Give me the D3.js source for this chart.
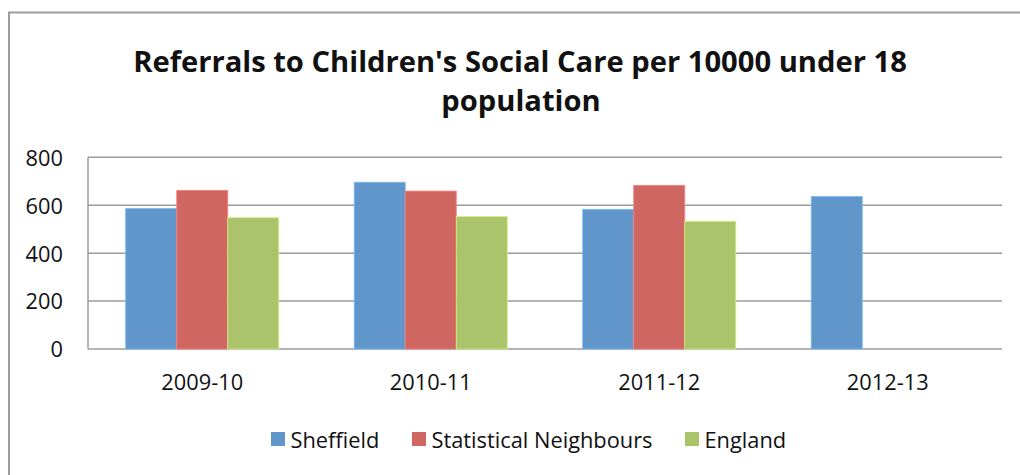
<!DOCTYPE html>
<html>
<head>
<meta charset="utf-8">
<script src="https://cdn.jsdelivr.net/npm/d3@7"></script>
<style>
  html, body { margin: 0; padding: 0; background: #fff; }
  svg { display: block; }
  text { font-family: "Open Sans", "Noto Sans", sans-serif; fill: #111; }
</style>
</head>
<body>
<svg id="chart" width="1020" height="475"></svg>
<script>
// Referrals to Children's Social Care per 10000 under 18 population
const years = ["2009-10", "2010-11", "2011-12", "2012-13"];
const seriesNames = ["Sheffield", "Statistical Neighbours", "England"];
const sheffield = [586, 696, 583, 636];
const statNeighbours = [662, 659, 683, null];
const england = [548, 553, 533, null];
const yTicks = [0, 200, 400, 600, 800];
const colors = ["#6096c9", "#d06661", "#abc46c"];

const seriesValues = [sheffield, statNeighbours, england];

const svg = d3.select("#chart");
const W = 1020, H = 475;
const plot = { left: 88, right: 1002, top: 157.3, bottom: 349 };

// Pick a font size so a sample string spans the given width
function sizeFor(sample, width, weight) {
  const t = svg.append("text").attr("font-size", 100).attr("font-weight", weight).text(sample);
  const w = t.node().getComputedTextLength();
  t.remove();
  return 100 * width / w;
}
const titleSize = sizeFor("Referrals to Children's Social Care per 10000 under 18", 774, "bold");
const bodySize = sizeFor("Statistical Neighbours", 221, "normal");

// Chart frame
svg.append("rect")
  .attr("x", 9).attr("y", 12.5)
  .attr("width", W + 20).attr("height", H + 20)
  .attr("fill", "#fff")
  .attr("stroke", "#9c9c9c").attr("stroke-width", 2);

// Title
const title = svg.append("text")
  .attr("text-anchor", "middle")
  .attr("font-weight", "bold")
  .attr("font-size", titleSize);
title.append("tspan").attr("x", 520).attr("y", 72)
  .text("Referrals to Children's Social Care per 10000 under 18");
title.append("tspan").attr("x", 521).attr("y", 111)
  .text("population");

// Scales
const x0 = d3.scaleBand().domain(years).range([plot.left, plot.right]).paddingInner(0.33).paddingOuter(0.165);
const x1 = d3.scaleBand().domain(seriesNames).range([0, x0.bandwidth()]);
const y = d3.scaleLinear().domain([0, 800]).range([plot.bottom, plot.top]);

// Gridlines
svg.append("g")
  .selectAll("line")
  .data(yTicks)
  .join("line")
  .attr("x1", plot.left).attr("x2", plot.right)
  .attr("y1", d => y(d)).attr("y2", d => y(d))
  .attr("stroke", "#9c9c9c").attr("stroke-width", 1.5);

// Y axis line
svg.append("line")
  .attr("x1", plot.left).attr("x2", plot.left)
  .attr("y1", plot.top).attr("y2", plot.bottom)
  .attr("stroke", "#9c9c9c").attr("stroke-width", 1.5);

// Y axis tick labels
const yAxis = d3.axisLeft(y).tickValues(yTicks).tickSize(0).tickPadding(0);
const yg = svg.append("g").attr("transform", `translate(${plot.left - 25},0)`).call(yAxis);
yg.select(".domain").remove();
yg.selectAll("text").attr("font-size", bodySize).attr("font-family", null).attr("fill", "#111").attr("dy", "0.36em");

// X axis labels
const xAxis = d3.axisBottom(x0).tickSize(0).tickPadding(0);
const xg = svg.append("g").attr("transform", `translate(0,${plot.bottom + 26})`).call(xAxis);
xg.select(".domain").remove();
xg.selectAll("text").attr("font-size", bodySize).attr("font-family", null).attr("fill", "#111");

// Bars
const rows = years.map((yr, i) => ({
  year: yr,
  values: seriesNames.map((s, j) => ({ series: s, idx: j, value: seriesValues[j][i] }))
}));

svg.append("g")
  .selectAll("g")
  .data(rows)
  .join("g")
  .attr("transform", d => `translate(${x0(d.year)},0)`)
  .selectAll("rect")
  .data(d => d.values.filter(v => v.value != null))
  .join("rect")
  .attr("x", d => x1(d.series))
  .attr("width", x1.bandwidth())
  .attr("y", d => y(d.value))
  .attr("height", d => y(0) - y(d.value))
  .attr("fill", d => colors[d.idx])
  .attr("stroke", d => d3.color(colors[d.idx]).brighter(0.6))
  .attr("stroke-width", 0.8);

// Legend
const legendItems = [
  { name: seriesNames[0], x: 271 },
  { name: seriesNames[1], x: 412 },
  { name: seriesNames[2], x: 685 }
];
const lg = svg.append("g");
legendItems.forEach((d, i) => {
  lg.append("rect").attr("x", d.x).attr("y", 432).attr("width", 14).attr("height", 14).attr("fill", colors[i]);
  lg.append("text").attr("x", d.x + 19.5).attr("y", 448).attr("font-size", bodySize).text(d.name);
});
</script>
</body>
</html>
